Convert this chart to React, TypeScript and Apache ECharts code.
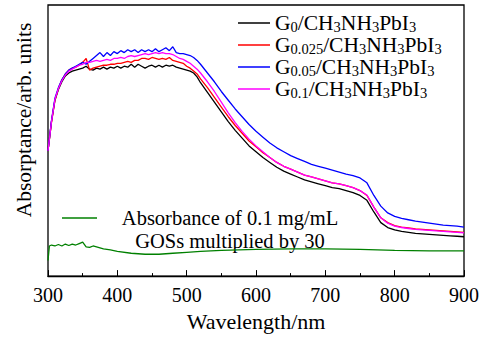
import React, { useEffect, useRef } from "react";
import * as echarts from "echarts";

// Wavelengths (nm) shared by the four film spectra
const wavelengths = [
  300, 305, 310, 315, 320, 325, 330, 335, 340, 345, 350, 355, 360, 365, 370, 375, 380, 385, 390, 395,
  400, 405, 410, 415, 420, 425, 430, 435, 440, 445, 450, 455, 460, 465, 470, 475, 480, 485, 490, 495,
  500, 505, 510, 515, 520,
  530, 540, 550, 560, 570, 580, 590, 600, 610, 620, 630, 640, 650, 660, 670, 680, 690, 700, 710, 720,
  730, 740, 750, 760, 770, 780, 790, 800, 810, 820, 830, 840, 850, 860, 870, 880, 890, 900,
];

// Absorptance (arb. units)
const g0 = [
  129, 159, 181, 192, 200, 206, 209, 211, 212, 213, 214, 216, 213, 212, 214, 213, 215, 213, 215, 214,
  216, 214, 216, 215, 218, 215, 218, 216, 214, 216, 217, 215, 217, 215, 217, 216, 217, 215, 214, 213,
  212, 211, 209, 205, 199,
  189, 179, 169, 159, 150, 142, 134, 128, 122, 117, 112, 108, 105, 102, 99, 97, 95, 93, 91, 90,
  88, 86, 83, 78, 66, 55, 50, 47.5, 46, 45, 44, 43.5, 43, 42.5, 42, 41.5, 41, 40.5,
];
const g0025 = [
  129, 158, 181, 193, 202, 208, 212, 214, 215, 217, 220, 224, 212, 214, 215, 216, 217, 217, 218, 218,
  219, 219, 220, 221, 220, 222, 222, 224, 224, 223, 225, 224, 223, 224, 223, 225, 222, 221, 220, 219,
  216, 214, 211, 208, 203,
  194, 184, 174, 164, 155, 147, 139, 133, 127, 122, 117, 113, 110, 107, 104, 102, 100, 98, 96, 95,
  93, 91, 88, 83, 71, 60, 55, 52, 50.5, 49.5, 48.5, 48, 47.5, 47, 46.5, 46, 45.5, 45,
];
const g005 = [
  129, 160, 183, 194, 202, 208, 212, 214, 216, 218, 220, 218, 221, 224, 227, 230, 226, 230, 227, 231,
  229, 232, 230, 233, 231, 233, 230, 233, 231, 233, 231, 234, 231, 233, 235, 232, 236, 230, 229, 229,
  228, 227, 225, 222, 218,
  209, 200, 190, 181, 172, 164, 156, 149, 143, 137, 132, 128, 124, 121, 118, 115, 113, 111, 109, 107,
  105, 103.5, 101, 96, 83, 72, 65, 61.5, 59.5, 58, 56.5, 55.5, 54.5, 53.5, 52.5, 52, 51.5, 50.5,
];
const g01 = [
  129, 159, 182, 193, 201, 207, 211, 213, 215, 217, 218, 220, 220, 221, 222, 221, 222, 223, 222, 224,
  224, 225, 224, 226, 227, 226, 227, 228, 229, 228, 229, 230, 229, 230, 229, 229, 228, 226, 224, 223,
  221, 219, 216, 213, 209,
  200, 190, 179, 168, 158, 149, 141, 134, 128, 122, 117, 113, 110, 107, 104, 102, 100, 98, 96, 95,
  93, 91, 88, 83.5, 71, 60, 54.5, 51.5, 50, 49, 48, 47.5, 47, 46.5, 46, 45.5, 45, 44.5,
];

// GOSs absorbance (x30)
const gosWavelengths = [
  300, 302, 305, 310, 315, 320, 325, 330, 335, 340, 345, 350, 355, 360, 365, 370, 380, 390, 400, 420,
  440, 460, 480, 500, 520, 550, 600, 650, 700, 750, 800, 850, 900,
];
const gosValues = [
  16, 31, 32, 31, 32.5, 31, 33, 31.5, 33, 32, 33.5, 35, 30, 29.5, 31, 30, 28, 27, 25.5, 23.5,
  22.5, 22.5, 23.5, 24.5, 25.5, 26.5, 27.5, 28, 28, 27.5, 26.5, 26, 26,
];

const seriesNames = ["G0", "G0.025", "G0.05", "G0.1"];
const seriesSubs = ["0", "0.025", "0.05", "0.1"];
const seriesColors = ["#000000", "#ff0000", "#0000ff", "#ff00ff"];
const seriesValues = [g0, g0025, g005, g01];

const xTicks = { min: 300, max: 900, interval: 100 };

const FONT = "Liberation Serif";

export default function App() {
  const ref = useRef<HTMLDivElement>(null);
  useEffect(() => {
    if (!ref.current) return;
    const chart = echarts.init(ref.current, null, { renderer: "svg" });
    const mainSeries = seriesNames.map((name, i) => ({
      name,
      type: "line",
      data: wavelengths.map((w, j) => [w, seriesValues[i][j]]),
      symbol: "none",
      showSymbol: false,
      lineStyle: { color: seriesColors[i], width: 1.3 },
      itemStyle: { color: seriesColors[i] },
      z: 2 + i,
    }));
    chart.setOption({
      animation: false,
      textStyle: { fontFamily: FONT },
      grid: {
        left: 48,
        right: 22,
        top: 5,
        bottom: 53,
        show: true,
        borderColor: "#000",
        borderWidth: 1.3,
        backgroundColor: "transparent",
      },
      legend: {
        data: seriesNames,
        orient: "vertical",
        left: 238,
        top: 12,
        padding: 0,
        itemGap: 0,
        itemWidth: 32,
        itemHeight: 1.5,
        icon: "rect",
        formatter: (name: string) => {
          const i = seriesNames.indexOf(name);
          return `{n|G}{s|${seriesSubs[i]}}{n|/CH}{s|3}{n|NH}{s|3}{n|PbI}{s|3}`;
        },
        textStyle: {
          fontFamily: FONT,
          color: "#000",
          rich: {
            n: { fontSize: 21.5, lineHeight: 22, fontFamily: FONT, color: "#000" },
            s: { fontSize: 14.5, lineHeight: 12, verticalAlign: "bottom", fontFamily: FONT, color: "#000" },
          },
        },
      },
      xAxis: {
        type: "value",
        min: xTicks.min,
        max: xTicks.max,
        interval: xTicks.interval,
        name: "Wavelength/nm",
        nameLocation: "middle",
        nameGap: 33,
        nameTextStyle: { fontFamily: FONT, fontSize: 22, color: "#000" },
        axisLine: { show: true, lineStyle: { color: "#000", width: 1.3 } },
        axisTick: { show: true, inside: true, length: 6, lineStyle: { color: "#000", width: 1 } },
        minorTick: { show: true, splitNumber: 2, length: 3, lineStyle: { color: "#000", width: 1 } },
        axisLabel: { fontFamily: FONT, fontSize: 20, color: "#000", margin: 9 },
        splitLine: { show: false },
        minorSplitLine: { show: false },
      },
      yAxis: {
        type: "value",
        min: 0,
        max: 279,
        axisLine: { show: false },
        axisTick: { show: false },
        axisLabel: { show: false },
        splitLine: { show: false },
      },
      graphic: [
        {
          type: "text",
          x: 24,
          y: 120,
          rotation: Math.PI / 2,
          style: {
            text: "Absorptance/arb. units",
            fontFamily: FONT,
            fontSize: 21.5,
            fill: "#000",
            align: "center",
            verticalAlign: "middle",
          },
        },
        {
          type: "line",
          shape: { x1: 62, y1: 218, x2: 97, y2: 218 },
          style: { stroke: "#008000", lineWidth: 1.3 },
        },
        {
          type: "text",
          x: 230,
          y: 229.5,
          style: {
            text: "Absorbance of 0.1 mg/mL\nGOSs multiplied by 30",
            fontFamily: FONT,
            fontSize: 20.5,
            lineHeight: 23,
            fill: "#000",
            align: "center",
            verticalAlign: "middle",
          },
        },
      ],
      series: [
        ...mainSeries,
        {
          name: "GOSs x30",
          type: "line",
          data: gosWavelengths.map((w, j) => [w, gosValues[j]]),
          symbol: "none",
          showSymbol: false,
          lineStyle: { color: "#008000", width: 1.3 },
          itemStyle: { color: "#008000" },
          z: 6,
        },
      ],
    });
    return () => chart.dispose();
  }, []);
  return (
    <div
      ref={ref}
      style={{ position: "fixed", left: 0, top: 0, width: 486, height: 337, background: "#fff" }}
    />
  );
}
